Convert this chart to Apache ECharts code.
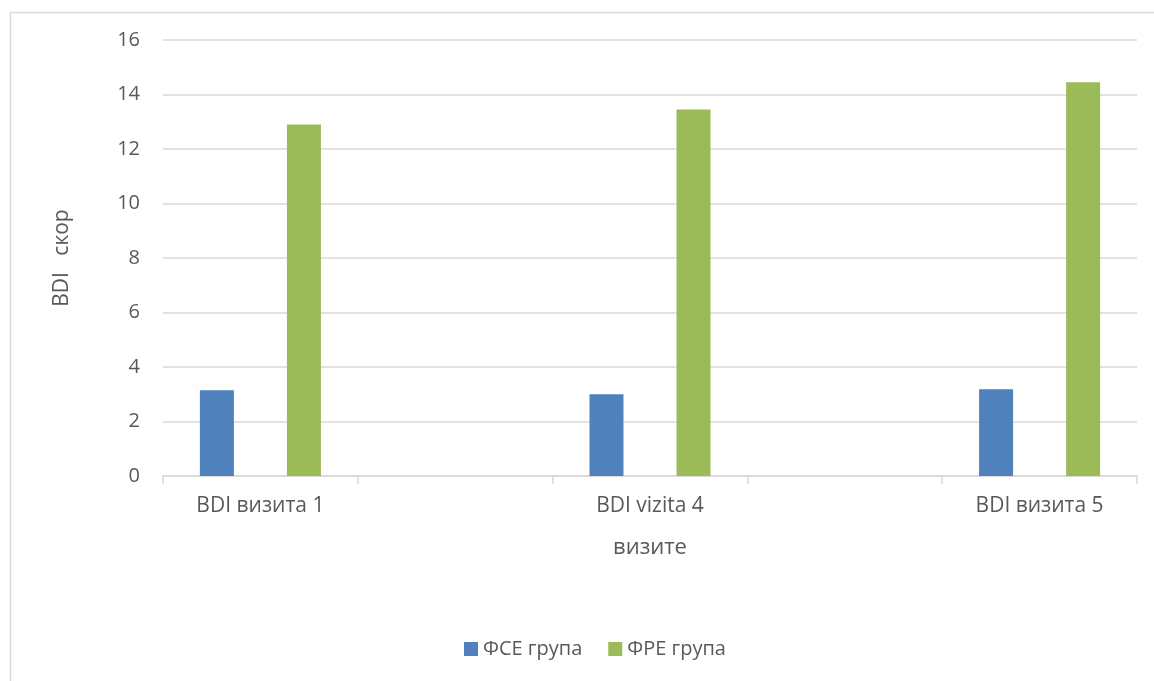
<!DOCTYPE html>
<html>
<head>
<meta charset="utf-8">
<script src="https://cdn.jsdelivr.net/npm/echarts@6/dist/echarts.min.js"></script>
<style>
html,body{margin:0;padding:0;background:#fff;}
#chart{width:1154px;height:681px;}
</style>
</head>
<body>
<div id="chart"></div>
<script>
// categories (empty slots between visits, as in the source chart)
var categories = ['BDI визита 1', '', 'BDI vizita 4', '', 'BDI визита 5'];
var fceValues = [3.15, null, 3.0, null, 3.18];
var freValues = [12.9, null, 13.45, null, 14.45];
var seriesNames = ['ФСЕ група', 'ФРЕ група'];
var colors = ['#4f81bd', '#9bbb59'];

var myChart = echarts.init(document.getElementById('chart'));
var font = '"Open Sans", "Liberation Sans", sans-serif';

var option = {
    color: colors,
    animation: false,
    textStyle: {fontFamily: font},
    graphic: [{
        type: 'rect',
        shape: {x: 10.5, y: 12.5, width: 1200, height: 700},
        style: {fill: 'none', stroke: '#d9d9d9', lineWidth: 1.5}
    }],
    grid: {left: 163, right: 17, top: 40, bottom: 205},
    legend: {
        bottom: 17,
        left: 459,
        itemWidth: 14,
        itemHeight: 14,
        itemGap: 26,
        icon: 'rect',
        textStyle: {fontSize: 20, color: '#595959', fontFamily: font},
        data: seriesNames
    },
    xAxis: {
        type: 'category',
        data: categories,
        name: 'визите',
        nameLocation: 'middle',
        nameGap: 61,
        nameTextStyle: {fontSize: 22, color: '#595959'},
        axisLine: {lineStyle: {color: '#d9d9d9', width: 1.5}},
        axisTick: {show: true, length: 8, lineStyle: {color: '#d9d9d9', width: 1.5}},
        axisLabel: {interval: 0, fontSize: 21, color: '#595959', margin: 20}
    },
    yAxis: {
        type: 'value',
        min: 0,
        max: 16,
        interval: 2,
        name: 'BDI   скор',
        nameLocation: 'middle',
        nameGap: 90,
        nameTextStyle: {fontSize: 21, color: '#595959'},
        axisLine: {show: false},
        axisTick: {show: false},
        axisLabel: {fontSize: 20, color: '#595959', margin: 23},
        splitLine: {lineStyle: {color: '#d9d9d9', width: 1.5}}
    },
    series: [
        {
            name: seriesNames[0],
            type: 'bar',
            barWidth: 34,
            barGap: '156%',
            data: fceValues
        },
        {
            name: seriesNames[1],
            type: 'bar',
            barWidth: 34,
            barGap: '156%',
            data: freValues
        }
    ]
};

myChart.setOption(option);
</script>
</body>
</html>
